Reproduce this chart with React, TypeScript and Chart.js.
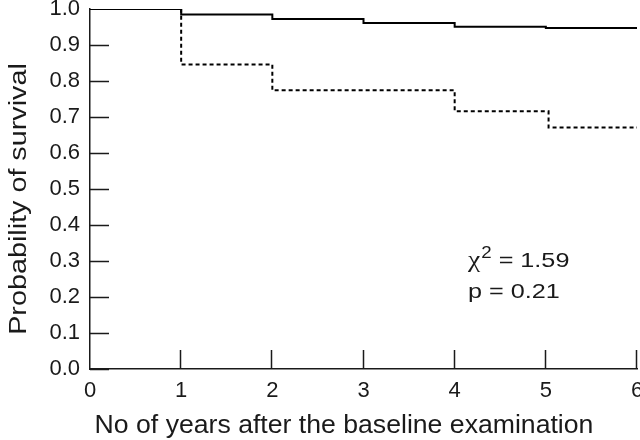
import React, { useEffect, useRef } from "react";
import { Chart, registerables } from "chart.js";

Chart.register(...registerables);

// Kaplan-Meier step curves (time in years, survival probability)
const solidTimes = [0, 1, 2, 3, 4, 5, 6];
const solidValues = [1.0, 0.985, 0.972, 0.961, 0.951, 0.947, 0.947];
const dottedTimes = [0, 1, 2, 4, 5.03, 6];
const dottedValues = [1.0, 0.846, 0.774, 0.716, 0.671, 0.671];

const xTicks = [0, 1, 2, 3, 4, 5, 6];
const yTicks = [0.0, 0.1, 0.2, 0.3, 0.4, 0.5, 0.6, 0.7, 0.8, 0.9, 1.0];

const xTitle = "No of years after the baseline examination";
const yTitle = "Probability of survival";
const statChi = "1.59";
const statP = "0.21";

const FONT = "'Liberation Sans', Arial, Helvetica, sans-serif";
const SERIF = "'Liberation Serif', 'DejaVu Serif', serif";
const INK = "#1a1a1a";

function stretchedText(
  ctx: CanvasRenderingContext2D,
  text: string,
  x: number,
  y: number,
  size: number,
  sx: number,
  align: CanvasTextAlign,
  rotate = 0,
  family = FONT
) {
  ctx.save();
  ctx.translate(x, y);
  if (rotate) ctx.rotate(rotate);
  ctx.scale(sx, 1);
  ctx.font = `${size}px ${family}`;
  ctx.textAlign = align;
  ctx.textBaseline = "alphabetic";
  ctx.fillText(text, 0, 0);
  const w = ctx.measureText(text).width * sx;
  ctx.restore();
  return w;
}

export default function App() {
  const ref = useRef<HTMLCanvasElement | null>(null);

  useEffect(() => {
    document.body.style.margin = "0";
    const canvas = ref.current;
    if (!canvas) return;

    const decorPlugin = {
      id: "decor",
      afterDraw(chart: any) {
        const { ctx, chartArea, scales } = chart;
        const xs = scales.x;
        const ys = scales.y;
        ctx.save();
        // inward tick marks
        ctx.strokeStyle = INK;
        ctx.lineWidth = 1.5;
        ctx.beginPath();
        yTicks.forEach((v) => {
          if (v >= 1) return;
          const py = Math.round(ys.getPixelForValue(v)) + 0.5;
          ctx.moveTo(chartArea.left, py);
          ctx.lineTo(chartArea.left + 19, py);
        });
        xTicks.forEach((v) => {
          if (v <= 0) return;
          const px = Math.round(xs.getPixelForValue(v)) - 0.5;
          ctx.moveTo(px, chartArea.bottom);
          ctx.lineTo(px, chartArea.bottom - 19);
        });
        ctx.stroke();

        ctx.fillStyle = INK;
        // axis titles
        stretchedText(ctx, xTitle, chartArea.left + 254, chartArea.bottom + 64, 25, 1.065, "center");
        stretchedText(ctx, yTitle, 26, chartArea.top + 190, 23, 1.25, "center", -Math.PI / 2);

        // statistics annotation
        const ax = xs.getPixelForValue(4.146);
        const ay1 = ys.getPixelForValue(0.283);
        const ay2 = ys.getPixelForValue(0.197);
        let cx = ax;
        cx += stretchedText(ctx, "\u03C7", cx, ay1, 24, 1.15, "left", 0, SERIF);
        cx += 1;
        cx += stretchedText(ctx, "2", cx, ay1 - 9, 17, 1.1, "left");
        stretchedText(ctx, ` = ${statChi}`, cx, ay1, 21, 1.2, "left");
        stretchedText(ctx, `p = ${statP}`, ax, ay2, 21, 1.2, "left");
        ctx.restore();
      },
    };

    const chart = new Chart(canvas, {
      type: "line",
      data: {
        datasets: [
          {
            label: "solid",
            data: solidTimes.map((t, i) => ({ x: t, y: solidValues[i] })),
            borderColor: "#000",
            borderWidth: 2,
            pointRadius: 0,
            stepped: "before",
            fill: false,
          },
          {
            label: "dotted",
            data: dottedTimes.map((t, i) => ({ x: t, y: dottedValues[i] })),
            borderColor: "#000",
            borderWidth: 2,
            borderDash: [4, 3],
            pointRadius: 0,
            stepped: "before",
            fill: false,
          },
        ],
      },
      options: {
        animation: false,
        responsive: false,
        layout: { padding: { top: 9, right: 3, left: 0, bottom: 0 } },
        plugins: { legend: { display: false }, tooltip: { enabled: false } },
        scales: {
          x: {
            type: "linear",
            min: 0,
            max: 6,
            afterBuildTicks: (s: any) => {
              s.ticks = xTicks.map((v) => ({ value: v }));
            },
            afterFit: (s: any) => {
              s.height = 71;
              s.paddingLeft = 0;
              s.paddingRight = 0;
            },
            grid: { display: true, drawOnChartArea: false, drawTicks: false },
            border: { display: true, color: INK, width: 1.5 },
            ticks: {
              padding: 9,
              color: INK,
              maxRotation: 0,
              font: { family: FONT, size: 22 },
              callback: (v: any) => String(v),
            },
            title: { display: false },
          },
          y: {
            type: "linear",
            min: 0,
            max: 1,
            afterBuildTicks: (s: any) => {
              s.ticks = yTicks.map((v) => ({ value: v }));
            },
            afterFit: (s: any) => {
              s.width = 90;
              s.paddingTop = 0;
              s.paddingBottom = 0;
            },
            grid: { display: true, drawOnChartArea: false, drawTicks: false },
            border: { display: true, color: INK, width: 1.5 },
            ticks: {
              padding: 10,
              color: INK,
              font: { family: FONT, size: 22 },
              callback: (v: any) => Number(v).toFixed(1),
            },
            title: { display: false },
          },
        },
      },
      plugins: [decorPlugin],
    });

    return () => chart.destroy();
  }, []);

  return (
    <div style={{ width: 640, height: 440, background: "#fff" }}>
      <canvas ref={ref} width={640} height={440} />
    </div>
  );
}
